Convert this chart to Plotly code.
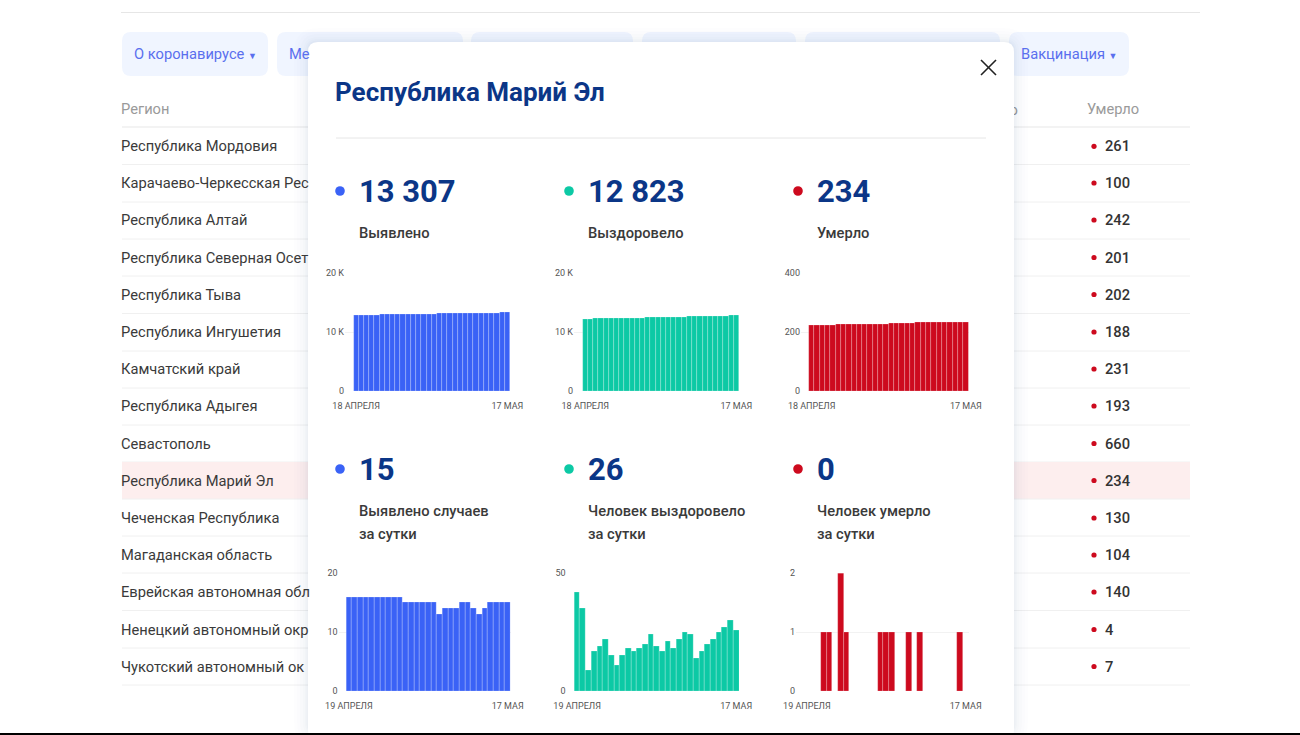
import plotly.graph_objects as go

# ---------- data ----------
days_apr18 = ["18 апр", "19 апр", "20 апр", "21 апр", "22 апр", "23 апр", "24 апр", "25 апр", "26 апр", "27 апр",
              "28 апр", "29 апр", "30 апр", "1 мая", "2 мая", "3 мая", "4 мая", "5 мая", "6 мая", "7 мая",
              "8 мая", "9 мая", "10 мая", "11 мая", "12 мая", "13 мая", "14 мая", "15 мая", "16 мая", "17 мая"]
days_apr19 = days_apr18[1:]

total_cases = [12871, 12887, 12903, 12919, 12935, 12951, 12967, 12983, 12999, 13015,
               13031, 13046, 13061, 13076, 13091, 13106, 13121, 13134, 13148, 13162,
               13176, 13191, 13206, 13220, 13233, 13247, 13262, 13277, 13292, 13307]
total_recovered = [12214, 12256, 12291, 12300, 12317, 12336, 12358, 12373, 12384, 12399,
                   12417, 12434, 12452, 12472, 12496, 12515, 12532, 12553, 12571, 12593,
                   12618, 12642, 12656, 12673, 12693, 12715, 12740, 12767, 12797, 12823]
total_deaths = [223, 223, 223, 223, 224, 225, 225, 227, 228, 228,
                228, 228, 228, 228, 228, 229, 230, 231, 231, 231,
                232, 232, 233, 233, 233, 233, 233, 233, 234, 234]
daily_cases = [16, 16, 16, 16, 16, 16, 16, 16, 16, 16, 15, 15, 15, 15, 15, 15, 13, 14, 14, 14,
               15, 15, 14, 13, 14, 15, 15, 15, 15]
daily_recovered = [42, 35, 9, 17, 19, 22, 15, 11, 15, 18, 17, 18, 20, 24, 19, 17, 21, 18, 22, 25,
                   24, 14, 17, 20, 22, 25, 27, 30, 26]
daily_deaths = [0, 0, 0, 1, 1, 0, 2, 1, 0, 0, 0, 0, 0, 1, 1, 1, 0, 0, 1, 0,
                1, 0, 0, 0, 0, 0, 0, 1, 0]

regions = ["Республика Мордовия", "Карачаево-Черкесская Рес", "Республика Алтай", "Республика Северная Осет",
           "Республика Тыва", "Республика Ингушетия", "Камчатский край", "Республика Адыгея", "Севастополь",
           "Республика Марий Эл", "Чеченская Республика", "Магаданская область", "Еврейская автономная обл",
           "Ненецкий автономный окр", "Чукотский автономный ок"]
region_deaths = [261, 100, 242, 201, 202, 188, 231, 193, 660, 234, 130, 104, 140, 4, 7]
buttons = ["О коронавирусе", "Ме", "Вакцинация"]
stat_top = ["13 307", "12 823", "234"]
stat_top_labels = ["Выявлено", "Выздоровело", "Умерло"]
stat_bottom = ["15", "26", "0"]
stat_bottom_line1 = ["Выявлено случаев", "Человек выздоровело", "Человек умерло"]

# ---------- styles / layout helpers ----------
W, H = 1300, 735
BLUE, GREEN, RED = "#3a62f6", "#0cc9a5", "#cd0a1e"
NAVY = "#0b3687"
FONT = "Roboto"
BODY = 14.7


def px(x):
    return x / W


def py(y):
    return 1 - y / H


shapes, annos = [], []


def rrect_path(x0, y0, x1, y1, r):
    a, b, c, d = px(x0), px(x1), py(y0), py(y1)
    rx, ry = r / W, r / H
    return (f"M{a + rx},{c} L{b - rx},{c} Q{b},{c} {b},{c - ry} L{b},{d + ry} Q{b},{d} {b - rx},{d} "
            f"L{a + rx},{d} Q{a},{d} {a},{d + ry} L{a},{c - ry} Q{a},{c} {a + rx},{c} Z")


def rrect(x0, y0, x1, y1, r, color):
    shapes.append(dict(type="path", path=rrect_path(x0, y0, x1, y1, r), xref="paper", yref="paper",
                       fillcolor=color, line=dict(width=0), layer="below"))


def rect(x0, y0, x1, y1, color):
    shapes.append(dict(type="rect", xref="paper", yref="paper", x0=px(x0), x1=px(x1), y0=py(y0), y1=py(y1),
                       fillcolor=color, line=dict(width=0), layer="below"))


def hline(x0, x1, y, color, w=1):
    shapes.append(dict(type="line", xref="paper", yref="paper", x0=px(x0), x1=px(x1), y0=py(y), y1=py(y),
                       line=dict(color=color, width=w), layer="below"))


def dot(x, y, r, color):
    shapes.append(dict(type="circle", xref="paper", yref="paper", x0=px(x - r), x1=px(x + r), y0=py(y - r),
                       y1=py(y + r), fillcolor=color, line=dict(width=0), layer="below"))


def text(x, y, s, size, color, weight=400):
    annos.append(dict(xref="paper", yref="paper", x=px(x), y=py(y), text=s, showarrow=False, xanchor="left",
                      yanchor="middle", font=dict(family=FONT, size=size, color=color, weight=weight),
                      borderpad=0, borderwidth=0))


# ---------- page behind ----------
hline(121, 1200, 12.5, "#e6e6e6")
for x0, x1 in [(122, 268), (277, 463), (471, 633), (642, 796), (805, 1000), (1009, 1129)]:
    rrect(x0, 32, x1, 76, 9, "#f0f5ff")
BTN = "#5a6fee"
text(134, 53.6, buttons[0] + " <span style='font-size:9px'>▼</span>", BODY, BTN)
text(289, 53.6, buttons[1], BODY, BTN)
text(1021, 53.6, buttons[2] + " <span style='font-size:9px'>▼</span>", BODY, BTN)
text(121.2, 109, "Регион", BODY, "#9a9a9a")
text(1087, 109, "Умерло", BODY, "#9a9a9a")
# header of a hidden column: drawn under the modal, so only its tail shows
shapes.append(dict(type="line", xref="paper", yref="paper", x0=px(900), x1=px(1018), y0=py(109), y1=py(109),
                   line=dict(width=0, color="rgba(0,0,0,0)"), layer="below",
                   label=dict(text="Выздоровело", textposition="end", xanchor="right", yanchor="middle", padding=0,
                              textangle=0, font=dict(family=FONT, size=BODY, color="#9a9a9a"))))
hline(122, 1190, 127, "#e8e8e8", 1.2)
row_y = [146.3, 183, 220, 257.5, 294.5, 332, 369, 406, 443.5, 480.5, 518, 555, 592, 629.5, 666.5]
row_line_y = [164.5, 202, 239, 276, 313.5, 351, 388, 425, 462, 499, 536, 573, 610.5, 648, 685]
for name, val, y, ly in zip(regions, region_deaths, row_y, row_line_y):
    if name == "Республика Марий Эл":
        rect(122, ly - 37, 1190, ly, "#fdeeee")
    text(121.2, y, name, BODY, "#3a3a3a")
    dot(1094, y, 2.6, RED)
    text(1105, y, str(val), BODY, "#333333", 500)
    hline(122, 1190, ly, "#f0f0f0")

# ---------- modal ----------
for spread, alpha in [(14, 0.006), (11, 0.008), (8, 0.010), (5, 0.012), (3, 0.016), (1.5, 0.02)]:
    rrect(308 - spread, 42 - spread, 1014 + spread, 733 + spread, 10 + spread, f"rgba(30,50,110,{alpha})")
rrect(308, 42, 1014, 740, 10, "#ffffff")
text(335, 92, "Республика Марий Эл", 26, NAVY, 700)
hline(336, 986, 138, "#e6e6e6")
for a, b in [((981, 60), (996, 75)), ((996, 60), (981, 75))]:
    shapes.append(dict(type="line", xref="paper", yref="paper", x0=px(a[0]), y0=py(a[1]), x1=px(b[0]), y1=py(b[1]),
                       line=dict(color="#222222", width=1.6), layer="above"))

stat_dot_x = [340, 569, 798]
stat_text_x = [358.5, 587.5, 816.5]
colors = [BLUE, GREEN, RED]
for i in range(3):
    dot(stat_dot_x[i], 191, 4.8, colors[i])
    text(stat_text_x[i], 191.7, stat_top[i], 31, NAVY, 700)
    text(stat_text_x[i], 232.6, stat_top_labels[i], BODY, "#3a3a3a", 500)
    dot(stat_dot_x[i], 469, 4.8, colors[i])
    text(stat_text_x[i], 469.7, stat_bottom[i], 31, NAVY, 700)
    text(stat_text_x[i], 510.6, stat_bottom_line1[i], BODY, "#3a3a3a", 500)
    text(stat_text_x[i], 533.6, "за сутки", BODY, "#3a3a3a", 500)

# ---------- charts ----------
# (days, values, colour, grid left px, bars left px, bars right px, top px, bottom px, tick values, tick labels, first label)
charts = [
    (days_apr18, total_cases, BLUE, 345, 353.5, 510, 273.3, 391, [0, 10000, 20000], ["0", "10 K", "20 K"], "18 АПРЕЛЯ"),
    (days_apr18, total_recovered, GREEN, 574, 582.7, 739, 273.3, 391, [0, 10000, 20000], ["0", "10 K", "20 K"], "18 АПРЕЛЯ"),
    (days_apr18, total_deaths, RED, 801, 809, 968.5, 273.3, 391, [0, 200, 400], ["0", "200", "400"], "18 АПРЕЛЯ"),
    (days_apr19, daily_cases, BLUE, 338.5, 346, 510.5, 573.3, 691, [0, 10, 20], ["0", "10", "20"], "19 АПРЕЛЯ"),
    (days_apr19, daily_recovered, GREEN, 566.5, 574.3, 739, 573.3, 691, [0, 50], ["0", "50"], "19 АПРЕЛЯ"),
    (days_apr19, daily_deaths, RED, 796, 804, 968.5, 573.3, 691, [0, 1, 2], ["0", "1", "2"], "19 АПРЕЛЯ"),
]
fig = go.Figure()
layout_axes = {}
for k, (days, vals, col, gl, bl, br, top, bot, tv, tt, first) in enumerate(charts, start=1):
    n = len(days)
    step = (br - bl) / n
    xname, yname = ("x", "y") if k == 1 else (f"x{k}", f"y{k}")
    fig.add_trace(go.Bar(x=days, y=vals, xaxis=xname, yaxis=yname, marker=dict(color=col,
                         line=dict(color="rgba(255,255,255,0.35)", width=0.6)), width=1.0, showlegend=False))
    layout_axes[f"xaxis{k}"] = dict(domain=[px(gl), px(br)], type="category", categoryorder="array", categoryarray=days,
                                    range=[-0.5 - (bl - gl) / step, n - 0.5], tickmode="array",
                                    tickvals=[days[0], days[-1]], ticktext=[first, "17 МАЯ"], showgrid=False,
                                    showline=False, zeroline=False, ticks="", ticklabelstandoff=8, fixedrange=True,
                                    tickfont=dict(family=FONT, size=9, color="#555555"), anchor=yname, automargin=False)
    layout_axes[f"yaxis{k}"] = dict(domain=[py(bot), py(top)], range=[tv[0], tv[-1]], tickmode="array", tickvals=tv,
                                    ticktext=tt, showgrid=True, gridcolor="#f2f2f2", gridwidth=1, zeroline=False,
                                    showline=False, ticks="", fixedrange=True,
                                    tickfont=dict(family=FONT, size=9, color="#555555"), anchor=xname, automargin=False)

fig.update_layout(width=W, height=H, margin=dict(l=0, r=0, t=0, b=0), paper_bgcolor="#ffffff", plot_bgcolor="rgba(0,0,0,0)",
                  barmode="overlay", bargap=0, shapes=shapes, annotations=annos, showlegend=False,
                  font=dict(family=FONT), **layout_axes)
# black strip along the bottom of the screenshot
fig.add_shape(type="rect", xref="paper", yref="paper", x0=0, x1=1, y0=0, y1=py(733), fillcolor="#000000",
              line=dict(width=0), layer="above")

fig.write_html("out.html", config={"displayModeBar": False},
               post_script="document.body.style.margin='0';document.body.style.overflow='hidden';")
